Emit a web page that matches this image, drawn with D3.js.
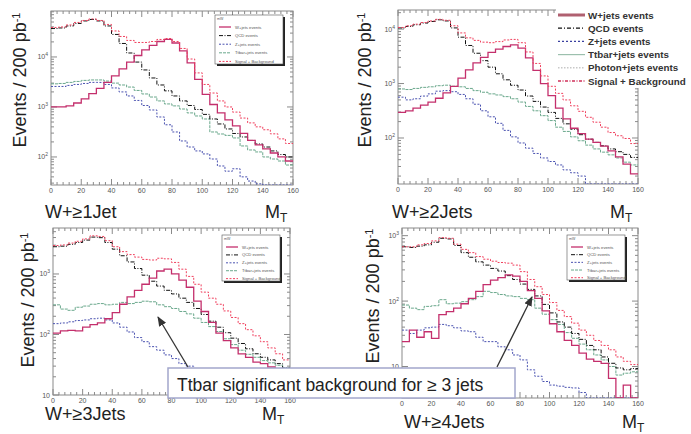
<!DOCTYPE html>
<html>
<head>
<meta charset="utf-8">
<script src="https://cdn.jsdelivr.net/npm/d3@7"></script>
<style>
  body { margin: 0; background: #fff; }
  svg { display: block; }
  text { font-family: "Liberation Sans", Arial, sans-serif; }
</style>
</head>
<body>
<svg id="chart" width="691" height="434"></svg>
<script>
// bins of 5 GeV from 0 to 160
var binEdges = d3.range(0, 160, 5);
var xTicks = [0, 20, 40, 60, 80, 100, 120, 140, 160];

var seriesNames = ["W+jets events", "QCD events", "Z+jets events", "Ttbar+jets events", "Signal + Background"];
var bigLegendNames = ["W+jets events", "QCD events", "Z+jets events", "Ttbar+jets events", "Photon+jets events", "Signal + Background"];
var panelTitles = ["W+\u22651Jet", "W+\u22652Jets", "W+\u22653Jets", "W+\u22654Jets"];
var noteText = "Ttbar significant background for \u2265 3 jets";

// W + >=1 jet
var wjets1 = [1000, 1000, 1050, 1200, 1450, 1850, 2350, 3100, 4200, 5800, 7900, 10700, 13800, 17000, 20400, 22400, 19000, 13200, 7600, 3550, 1780, 1120, 760, 550, 420, 295, 215, 175, 145, 120, 100, 83];
var qcd1 = [37000, 38000, 41700, 46800, 52500, 56200, 52500, 41700, 28200, 18600, 12000, 7900, 5500, 3800, 2750, 2100, 1660, 1320, 1070, 890, 710, 575, 457, 363, 295, 251, 214, 182, 158, 132, 112, 100];
var zjets1 = [2570, 2570, 2700, 2820, 2950, 3100, 3100, 2820, 2400, 2000, 1660, 1350, 1070, 870, 630, 440, 316, 209, 158, 132, 115, 91, 66, 52, 58, 40, 33, 29, 27, 27, 27, 27];
var ttbar1 = [2900, 2950, 3100, 3240, 3400, 3470, 3470, 3300, 3000, 2750, 2500, 2140, 1820, 1580, 1320, 1150, 1050, 910, 760, 660, 575, 316, 288, 270, 240, 166, 138, 126, 100, 91, 83, 69];
var total1 = [38900, 39800, 43600, 49000, 53700, 57500, 53700, 44700, 33100, 25700, 21400, 19500, 19500, 20400, 22400, 23400, 20400, 14800, 9100, 4800, 2820, 1900, 1320, 1000, 790, 600, 480, 400, 350, 290, 230, 186];

// W + >=2 jets
var wjets2 = [295, 316, 355, 400, 457, 537, 676, 890, 1260, 1780, 2400, 3020, 3720, 4270, 4790, 5130, 4470, 2950, 1740, 1000, 600, 355, 224, 151, 120, 95, 83, 71, 58, 45, 33, 22];
var qcd2 = [10500, 11200, 12000, 12900, 13800, 14800, 14100, 10500, 7100, 5000, 3600, 2630, 2000, 1510, 1170, 930, 760, 590, 470, 370, 295, 229, 182, 145, 115, 95, 83, 72, 63, 56, 50, 44];
var zjets2 = [562, 501, 525, 589, 646, 724, 741, 708, 631, 525, 417, 316, 245, 186, 138, 105, 81, 65, 52, 43, 37, 32, 26, 23, 20, 0, 0, 0, 0, 0, 0, 0];
var ttbar2 = [795, 776, 813, 851, 871, 912, 933, 891, 871, 813, 741, 692, 646, 617, 575, 525, 457, 380, 316, 257, 209, 158, 132, 105, 89, 74, 63, 55, 49, 43, 36, 32];
var total2 = [10700, 11500, 12300, 13200, 14100, 15100, 14500, 11500, 8500, 6900, 6200, 5750, 5620, 5890, 6310, 6460, 5620, 3800, 2340, 1380, 890, 660, 500, 390, 309, 240, 195, 158, 126, 110, 98, 79];

// W + >=3 jets
var wjets3 = [105, 115, 117, 115, 132, 145, 155, 182, 229, 316, 417, 537, 676, 851, 1120, 1200, 1000, 794, 603, 355, 240, 158, 105, 79, 60, 48, 42, 35, 33, 29, 27, 24];
var qcd3 = [2820, 2880, 3090, 3310, 3630, 4070, 3980, 3310, 2570, 2000, 1580, 1230, 955, 759, 631, 537, 468, 398, 339, 269, 214, 166, 132, 107, 87, 71, 58, 48, 42, 38, 33, 28];
var zjets3 = [151, 155, 162, 170, 174, 182, 186, 174, 155, 132, 110, 89, 76, 63, 55, 46, 40, 33, 30, 26, 23, 21, 19, 17, 16, 14, 13, 12, 11, 11, 10.5, 10];
var ttbar3 = [309, 263, 251, 282, 295, 316, 324, 309, 316, 339, 324, 339, 355, 347, 309, 288, 269, 240, 219, 186, 158, 135, 112, 85, 68, 55, 47, 42, 37, 34, 31, 28];
var total3 = [2950, 3020, 3240, 3470, 3800, 4270, 4170, 3550, 2820, 2340, 2090, 1900, 1740, 1700, 1820, 1780, 1550, 1200, 912, 676, 501, 398, 316, 245, 191, 151, 120, 95, 76, 60, 48, 38];

// W + >=4 jets
var wjets4 = [24, 36, 28, 34, 27, 62, 69, 78, 91, 110, 141, 178, 209, 229, 251, 240, 200, 145, 110, 71, 45, 34, 25, 21, 16, 13, 12, 11.2, 6.6, 0, 5.2, 0];
var qcd4 = [676, 661, 692, 724, 794, 912, 891, 708, 550, 468, 398, 355, 316, 288, 245, 214, 182, 151, 120, 89, 66, 48, 40, 32, 26, 21, 18, 14, 11.2, 9.5, 8.9, 9.3];
var zjets4 = [36, 32, 36, 39, 40, 44, 42, 39, 35, 34, 28, 24, 24, 20, 18, 15, 12.6, 8.9, 7.1, 5.9, 5.2, 5.0, 4.8, 4.7, 4.0, 0, 0, 0, 0, 0, 0, 0];
var ttbar4 = [87, 78, 74, 83, 85, 105, 91, 93, 98, 105, 117, 141, 135, 126, 120, 117, 110, 105, 78, 63, 52, 44, 33, 27, 22, 18, 15, 12.6, 10, 7.4, 7.9, 8.3];
var total4 = [676, 676, 724, 759, 832, 933, 912, 741, 617, 550, 479, 437, 407, 389, 380, 355, 282, 214, 166, 126, 95, 72, 58, 46, 36, 30, 25, 21, 18, 14, 12, 10.7];

// line styles, in draw order: ttbar, Z, QCD, W, total
var styles = {
  wjets: { color: "#c42f6c", dash: null, width: 1.3 },
  qcd:   { color: "#111", dash: "4,1.5,1,1.5", width: 1 },
  zjets: { color: "#4a52b0", dash: "2,1.5", width: 1 },
  ttbar: { color: "#6aa88c", dash: "3,1", width: 1 },
  total: { color: "#f0405e", dash: "2,1.5", width: 1 }
};

var panels = [
  { left: 51, right: 293, top: 11, bottom: 185, ymin: 27.5, ymax: 83000, exps: [2, 3, 4],
    data: { ttbar: ttbar1, zjets: zjets1, qcd: qcd1, wjets: wjets1, total: total1 },
    titleX: 45, titleY: 218, mtX: 265, ytX: 20, ytY: 80, legend: { x: 215, y: 15, w: 68, h: 49 } },
  { left: 398, right: 638, top: 10, bottom: 184, ymin: 14.3, ymax: 22400, exps: [2, 3, 4],
    data: { ttbar: ttbar2, zjets: zjets2, qcd: qcd2, wjets: wjets2, total: total2 },
    titleX: 392, titleY: 218, mtX: 610, ytX: 365, ytY: 80, legend: null },
  { left: 53, right: 290, top: 228, bottom: 395, ymin: 10, ymax: 5750, exps: [1, 2, 3],
    data: { ttbar: ttbar3, zjets: zjets3, qcd: qcd3, wjets: wjets3, total: total3 },
    titleX: 45, titleY: 420, mtX: 262, ytX: 28, ytY: 300, legend: { x: 222, y: 235, w: 58, h: 46 } },
  { left: 402, right: 638, top: 228, bottom: 398, ymin: 3.3, ymax: 1310, exps: [1, 2, 3],
    data: { ttbar: ttbar4, zjets: zjets4, qcd: qcd4, wjets: wjets4, total: total4 },
    titleX: 404, titleY: 428, mtX: 622, ytX: 373, ytY: 296, legend: { x: 567, y: 235, w: 58, h: 45 } }
];

var svg = d3.select("#chart");
var defs = svg.append("defs");
defs.append("marker").attr("id", "arrow")
  .attr("markerUnits", "userSpaceOnUse")
  .attr("markerWidth", 12).attr("markerHeight", 10)
  .attr("refX", 9).attr("refY", 4).attr("orient", "auto")
  .append("path").attr("d", "M0,0 L10,4 L0,8 z").attr("fill", "#333");

function sampleLine(g, st, x1, x2, yy, w) {
  g.append("line").attr("x1", x1).attr("x2", x2).attr("y1", yy).attr("y2", yy)
    .attr("stroke", st.color).attr("stroke-width", w || st.width)
    .attr("stroke-dasharray", st.dash);
}

panels.forEach(function(p, pi) {
  var x = d3.scaleLinear().domain([0, 160]).range([p.left, p.right]);
  var y = d3.scaleLog().domain([p.ymin, p.ymax]).range([p.bottom, p.top]);
  var g = svg.append("g");

  defs.append("clipPath").attr("id", "clip" + pi)
    .append("rect").attr("x", p.left).attr("y", p.top)
    .attr("width", p.right - p.left).attr("height", p.bottom - p.top);

  // frame
  g.append("rect").attr("x", p.left).attr("y", p.top)
    .attr("width", p.right - p.left).attr("height", p.bottom - p.top)
    .attr("fill", "none").attr("stroke", "#8a8a8a").attr("stroke-width", 1);

  // x ticks (bottom and top)
  var minorX = d3.range(0, 161, 4);
  minorX.forEach(function(v) {
    var len = v % 20 === 0 ? 6 : 3;
    g.append("line").attr("x1", x(v)).attr("x2", x(v))
      .attr("y1", p.bottom).attr("y2", p.bottom - len).attr("stroke", "#8a8a8a");
    g.append("line").attr("x1", x(v)).attr("x2", x(v))
      .attr("y1", p.top).attr("y2", p.top + len).attr("stroke", "#8a8a8a");
  });
  g.selectAll(".xl").data(xTicks).enter().append("text")
    .attr("x", function(d) { return x(d); }).attr("y", p.bottom + 8)
    .attr("text-anchor", "middle").attr("font-size", 7).attr("fill", "#555")
    .text(function(d) { return d; });

  // y log ticks (left and right)
  var lo = Math.floor(Math.log10(p.ymin)), hi = Math.ceil(Math.log10(p.ymax));
  for (var e = lo; e <= hi; e++) {
    for (var m = 1; m <= 9; m++) {
      var v = m * Math.pow(10, e);
      if (v < p.ymin || v > p.ymax) continue;
      var len = m === 1 ? 6 : 3;
      g.append("line").attr("x1", p.left).attr("x2", p.left + len)
        .attr("y1", y(v)).attr("y2", y(v)).attr("stroke", "#8a8a8a");
      g.append("line").attr("x1", p.right).attr("x2", p.right - len)
        .attr("y1", y(v)).attr("y2", y(v)).attr("stroke", "#8a8a8a");
    }
  }
  p.exps.forEach(function(ex) {
    var t = g.append("text").attr("x", p.left - 3).attr("y", y(Math.pow(10, ex)) + 2.5)
      .attr("text-anchor", "end").attr("font-size", 7).attr("fill", "#555");
    if (ex === 1) { t.text("10"); }
    else {
      t.text("10");
      t.append("tspan").attr("dy", -3).attr("font-size", 5).text(ex);
    }
  });

  // histograms
  var line = d3.line()
    .x(function(d) { return x(d[0]); })
    .y(function(d) { return y(Math.max(d[1], p.ymin)); })
    .curve(d3.curveStepAfter);
  var hg = g.append("g").attr("clip-path", "url(#clip" + pi + ")");
  ["ttbar", "zjets", "qcd", "wjets", "total"].forEach(function(k) {
    var vals = p.data[k];
    var pts = vals.map(function(v, i) { return [binEdges[i], v]; });
    pts.push([160, vals[vals.length - 1]]);
    hg.append("path").attr("d", line(pts)).attr("fill", "none")
      .attr("stroke", styles[k].color).attr("stroke-width", styles[k].width)
      .attr("stroke-dasharray", styles[k].dash);
  });

  // small legend box
  if (p.legend) {
    var L = p.legend;
    g.append("rect").attr("x", L.x + 2).attr("y", L.y + 2).attr("width", L.w).attr("height", L.h).attr("fill", "#222");
    g.append("rect").attr("x", L.x).attr("y", L.y).attr("width", L.w).attr("height", L.h)
      .attr("fill", "#fff").attr("stroke", "#555").attr("stroke-width", 0.6);
    g.append("text").attr("x", L.x + 2).attr("y", L.y + 5).attr("font-size", 3.5).attr("fill", "#555").text("mW");
    var keys = ["wjets", "qcd", "zjets", "ttbar", "total"];
    var step = (L.h - 12) / 4.3;
    keys.forEach(function(k, i) {
      var yy = L.y + 12 + i * step;
      sampleLine(g, styles[k], L.x + 4, L.x + 16, yy);
      g.append("text").attr("x", L.x + 20).attr("y", yy + 1.5).attr("font-size", 4.2)
        .attr("fill", "#555").text(seriesNames[i]);
    });
  }

  // axis titles
  var yt = g.append("text").attr("transform", "translate(" + p.ytX + "," + p.ytY + ") rotate(-90)")
    .attr("text-anchor", "middle").attr("dy", "0.35em").attr("font-size", 18).attr("fill", "#222")
    .text("Events / 200 pb");
  yt.append("tspan").attr("dy", "-0.6em").attr("font-size", 11).text("-1");

  g.append("text").attr("x", p.titleX).attr("y", p.titleY).attr("font-size", 18).attr("fill", "#222")
    .text(panelTitles[pi]);
  var mt = g.append("text").attr("x", p.mtX).attr("y", p.titleY).attr("font-size", 18).attr("fill", "#222").text("M");
  mt.append("tspan").attr("dy", 4).attr("font-size", 12).text("T");
});

// big legend of the W+>=2 jets panel
var lg = svg.append("g");
lg.append("rect").attr("x", 556).attr("y", 3).attr("width", 135).attr("height", 85).attr("fill", "#fff");
var bigStyles = [
  { color: "#b06070", dash: null, width: 3 },
  { color: "#111", dash: "4,2,1,2", width: 1.2 },
  { color: "#3a40a0", dash: "2,2", width: 1.2 },
  { color: "#9cc0ae", dash: null, width: 1.2 },
  { color: "#c8c8c8", dash: "1.5,1.5", width: 1.5 },
  { color: "#d0305a", dash: "3,1.5,1,1.5", width: 1.5 }
];
bigLegendNames.forEach(function(name, i) {
  var yy = 15 + i * 13.2;
  sampleLine(lg, bigStyles[i], 558, 585, yy);
  lg.append("text").attr("x", 588).attr("y", yy + 3.5).attr("font-size", 9.8)
    .attr("font-weight", "bold").attr("fill", "#333").text(name);
});

// annotation box and arrows
var ann = svg.append("g");
ann.append("rect").attr("x", 168).attr("y", 368).attr("width", 347).attr("height", 30)
  .attr("fill", "#fff").attr("stroke", "#a3a7cc").attr("stroke-width", 1.5);
ann.append("text").attr("x", 177).attr("y", 391).attr("font-size", 17.5).attr("fill", "#222").text(noteText);
ann.append("line").attr("x1", 188).attr("y1", 367).attr("x2", 158).attr("y2", 317)
  .attr("stroke", "#333").attr("stroke-width", 1.3).attr("marker-end", "url(#arrow)");
ann.append("line").attr("x1", 497).attr("y1", 367).attr("x2", 532).attr("y2", 297)
  .attr("stroke", "#333").attr("stroke-width", 1.3).attr("marker-end", "url(#arrow)");
</script>
</body>
</html>
